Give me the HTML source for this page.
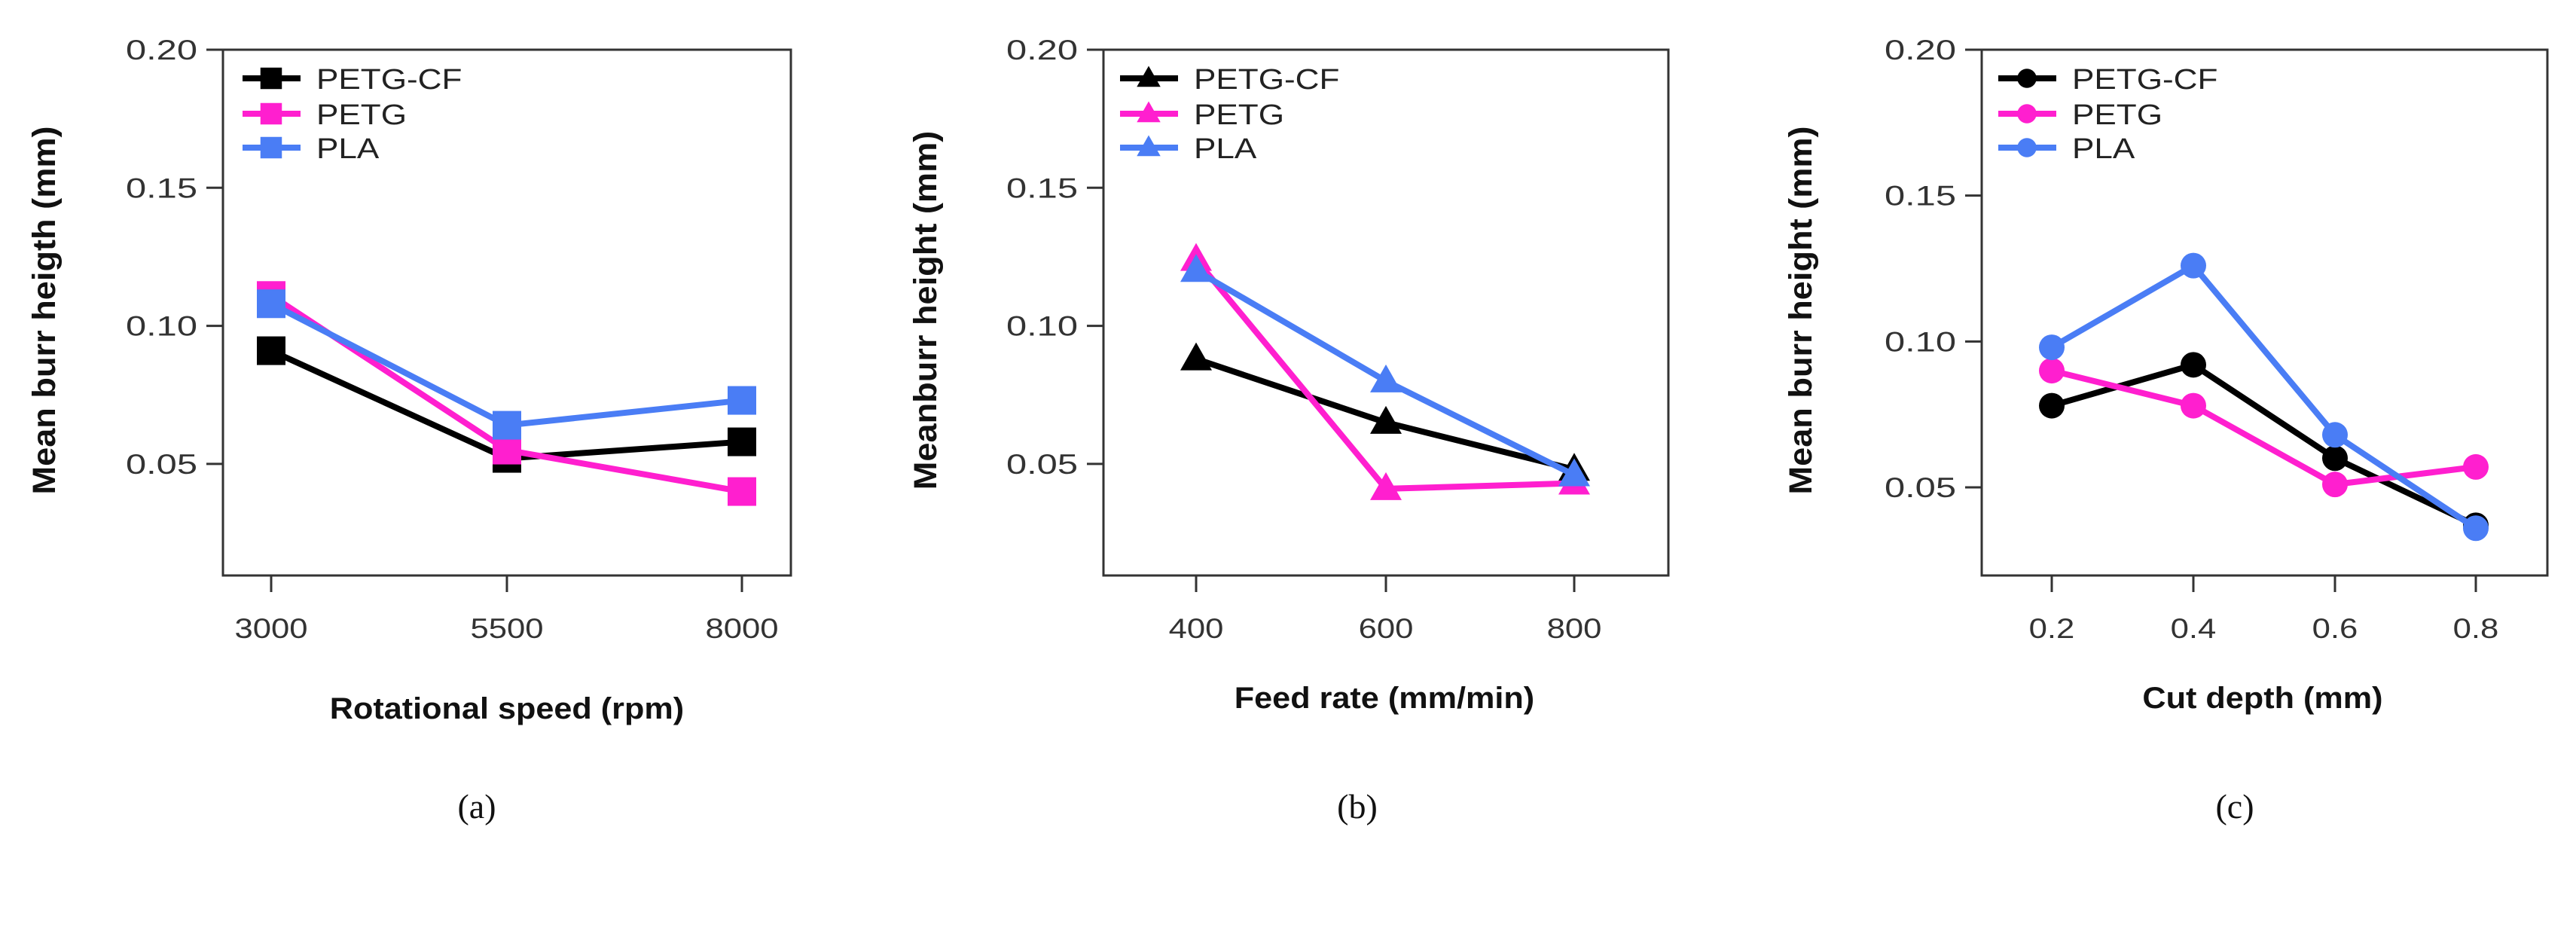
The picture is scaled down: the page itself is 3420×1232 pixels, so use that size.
<!DOCTYPE html>
<html><head><meta charset="utf-8"><style>
html,body{margin:0;padding:0;background:#fff}
svg{display:block}
text{font-family:"Liberation Sans",Arial,sans-serif}
</style></head><body>
<svg id="fig" width="3420" height="1232" viewBox="0 0 3420 1232" xmlns="http://www.w3.org/2000/svg"></svg>
<script>
// ---- data ----
const seriesNames = ["PETG-CF","PETG","PLA"];
const seriesColors = ["#000000","#ff1fcf","#4a7df5"];
const aCategories = ["3000","5500","8000"];
const aPETGCF = [0.091,0.052,0.058];
const aPETG = [0.111,0.055,0.040];
const aPLA = [0.108,0.064,0.073];
const bCategories = ["400","600","800"];
const bPETGCF = [0.088,0.065,0.048];
const bPETG = [0.124,0.041,0.043];
const bPLA = [0.120,0.080,0.046];
const cCategories = ["0.2","0.4","0.6","0.8"];
const cPETGCF = [0.078,0.092,0.060,0.037];
const cPETG = [0.090,0.078,0.051,0.057];
const cPLA = [0.098,0.126,0.068,0.036];
const yTicks = [0.05,0.10,0.15,0.20];
const yTickLabels = ["0.05","0.10","0.15","0.20"];

const NS="http://www.w3.org/2000/svg";
const svg=document.getElementById('fig');
function el(tag,attrs,parent){const e=document.createElementNS(NS,tag);for(const k in attrs)e.setAttribute(k,attrs[k]);(parent||svg).appendChild(e);return e;}
function stretch(t,x,y,sx){t.setAttribute('transform',`translate(${x} ${y}) scale(${sx} 1) translate(${-x} ${-y})`);}

const panels=[
 {id:'a',left:296,right:1050,ymin:0.0096,xpos:[360,673,985],cats:aCategories,data:[aPETGCF,aPETG,aPLA],marker:'square',
  ytitle:'Mean burr heigth (mm)',ytx:58,xtitle:'Rotational speed (rpm)',xtx:673,xty:952,lab:'(a)',labx:633,legx:322},
 {id:'b',left:1465,right:2215,ymin:0.0096,xpos:[1588,1840,2090],cats:bCategories,data:[bPETGCF,bPETG,bPLA],marker:'triangle',
  ytitle:'Meanburr height (mm)',ytx:1228,xtitle:'Feed rate (mm/min)',xtx:1838,xty:938,lab:'(b)',labx:1802,legx:1487},
 {id:'c',left:2631,right:3382,ymin:0.0198,xpos:[2724,2912,3100,3287],cats:cCategories,data:[cPETGCF,cPETG,cPLA],marker:'circle',
  ytitle:'Mean burr height (mm)',ytx:2390,xtitle:'Cut depth (mm)',xtx:3004,xty:938,lab:'(c)',labx:2967,legx:2653}
];
const plotTop=66,plotBottom=764,ymax=0.20;

function drawMarker(g,type,x,y,color){
  let m;
  if(type==='square') m=el('rect',{x:x-19,y:y-19,width:38,height:38,fill:color},g);
  else if(type==='triangle') m=el('polygon',{points:`${x},${y-22} ${x+21},${y+15} ${x-21},${y+15}`,fill:color},g);
  else m=el('circle',{cx:x,cy:y,r:17,fill:color},g);
  return m;
}

panels.forEach(p=>{
  const g=el('g',{});
  
  
  const ys=v=>plotBottom-(v-p.ymin)/(ymax-p.ymin)*(plotBottom-plotTop);
  const box=el('rect',{x:p.left,y:plotTop,width:p.right-p.left,height:plotBottom-plotTop,fill:'none',stroke:'#333',"stroke-width":3},g);
  
  
  yTicks.forEach((t,i)=>{
    const y=ys(t);
    el('line',{x1:p.left-22,x2:p.left,y1:y,y2:y,stroke:'#333',"stroke-width":3},g);
    const tx=el('text',{x:p.left-34,y:y+13,"font-size":37,fill:'#333',"text-anchor":'end'},g);
    tx.textContent=yTickLabels[i];
    stretch(tx,p.left-34,y+13,1.32);
    
    
  });
  p.cats.forEach((c,i)=>{
    const x=p.xpos[i];
    el('line',{x1:x,x2:x,y1:plotBottom,y2:plotBottom+22,stroke:'#333',"stroke-width":3},g);
    const tx=el('text',{x:x,y:847,"font-size":37,fill:'#333',"text-anchor":'middle'},g);
    tx.textContent=c;
    stretch(tx,x,847,1.18);
    
    
  });
  p.data.forEach((vals,si)=>{
    const sg=el('g',{},g);
    
    
    const pts=vals.map((v,i)=>p.xpos[i]+','+ys(v)).join(' ');
    el('polyline',{points:pts,fill:'none',stroke:seriesColors[si],"stroke-width":8,"stroke-linejoin":'round'},sg);
    vals.forEach((v,i)=>{
      const m=drawMarker(sg,p.marker,p.xpos[i],ys(v),seriesColors[si]);
      
      
    });
  });
  const lg=el('g',{},g);
  
  
  [104,151,196].forEach((y,si)=>{
    el('line',{x1:p.legx,x2:p.legx+77,y1:y,y2:y,stroke:seriesColors[si],"stroke-width":8},lg);
    drawMarker(lg,p.marker,p.legx+38,y,seriesColors[si]).setAttribute('transform',`translate(${p.legx+38} ${y}) scale(0.75) translate(${-(p.legx+38)} ${-y})`);
    const tx=el('text',{x:p.legx+98,y:y+14,"font-size":38,fill:'#222'},lg);
    tx.textContent=seriesNames[si];
    stretch(tx,p.legx+98,y+14,1.16);
    
    
  });
  const yt=el('text',{x:0,y:0,"font-size":43,"font-weight":'bold',fill:'#111',"text-anchor":'middle',transform:`translate(${p.ytx+15} ${(plotTop+plotBottom)/2-3}) rotate(-90) scale(1.05 1)`},g);
  yt.textContent=p.ytitle;
  
  
  const xt=el('text',{x:p.xtx,y:p.xty+2,"font-size":40,"font-weight":'bold',fill:'#111',"text-anchor":'middle'},g);
  xt.textContent=p.xtitle;
  stretch(xt,p.xtx,p.xty+2,1.08);
  
  
  const lb=el('text',{x:p.labx,y:1086,"font-size":46,fill:'#111',"text-anchor":'middle',style:'font-family:"Liberation Serif",serif'},g);
  lb.textContent=p.lab;
  
  
});
</script>
</body></html>
